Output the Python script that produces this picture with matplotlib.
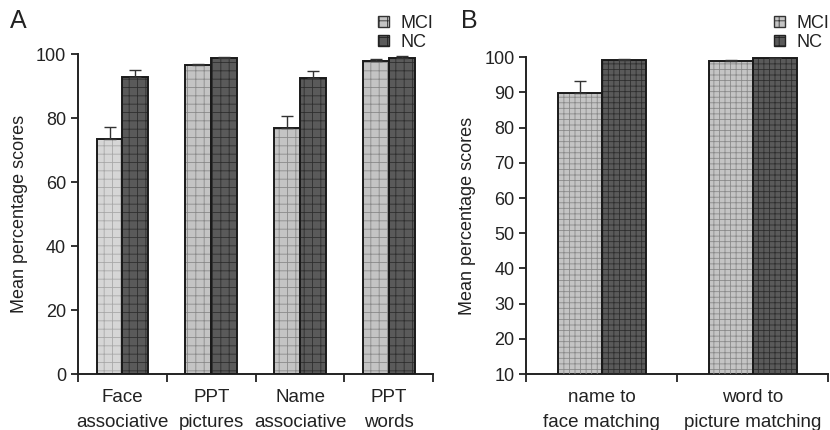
import matplotlib.pyplot as plt
import numpy as np
from matplotlib.patches import Patch

plt.rcParams['font.family'] = ['Liberation Sans', 'DejaVu Sans']
plt.rcParams['hatch.linewidth'] = 0.6

# panel A
cats_a = ["Face\nassociative", "PPT\npictures", "Name\nassociative", "PPT\nwords"]
mci_a = [73.5, 96.5, 77.0, 98.0]
mci_a_err = [3.7, 0.3, 3.6, 0.4]
nc_a = [93.0, 98.8, 92.7, 98.8]
nc_a_err = [1.9, 0.4, 1.9, 0.5]

# panel B
cats_b = ["name to\nface matching", "word to\npicture matching"]
mci_b = [89.9, 98.8]
mci_b_err = [3.3, 0.3]
nc_b = [99.2, 99.7]
nc_b_err = [0.3, 0.2]

TXT = '#222222'
MCI_FC, MCI_HC = '#c4c4c4', '#8a8a8a'
NC_FC, NC_HC = '#5a5a5a', '#2e2e2e'
W = 0.29


def bars(ax, x, vals, err, fc, hc, hatch):
    ax.bar(x, vals, W, color=fc, edgecolor='none', zorder=2)
    for xi, v, h in zip(x, vals, hc):
        ax.bar(xi, v, W, color='none', edgecolor=h, hatch=hatch, linewidth=0, zorder=3)
    ax.bar(x, vals, W, color='none', edgecolor='#1a1a1a', linewidth=1.4, zorder=4)
    ax.errorbar(x, vals, yerr=[np.zeros(len(vals)), err], fmt='none',
                ecolor='#333333', elinewidth=1.0, capsize=4, capthick=1.0, zorder=5)


def style(ax, cats, ylo, yticks):
    n = len(cats)
    ax.set_xlim(-0.5, n - 0.5)
    ax.set_ylim(ylo, 100)
    ax.set_yticks(yticks)
    ax.set_xticks(np.arange(n + 1) - 0.5)
    ax.set_xticklabels([])
    ax.set_xticks(np.arange(n), minor=True)
    ax.set_xticklabels(cats, minor=True, fontsize=13.5, color=TXT, linespacing=1.6)
    ax.tick_params(axis='x', which='major', direction='out', length=6, width=1.3, color='#222')
    ax.tick_params(axis='x', which='minor', length=0, pad=11)
    ax.tick_params(axis='y', direction='out', length=5, width=1.3, color='#222',
                   labelsize=13, labelcolor=TXT)
    for s in ['top', 'right']:
        ax.spines[s].set_visible(False)
    for s in ['left', 'bottom']:
        ax.spines[s].set_linewidth(1.4)
        ax.spines[s].set_color('#222')
    ax.set_ylabel("Mean percentage scores", fontsize=13, color=TXT, labelpad=6)


fig = plt.figure(figsize=(8.3, 4.3), dpi=100)
ax1 = fig.add_axes([0.094, 0.130, 0.428, 0.744])
ax2 = fig.add_axes([0.634, 0.130, 0.364, 0.737])

xa = np.arange(len(cats_a))
bars(ax1, xa - W / 2, mci_a, mci_a_err,
     ['#d6d6d6', MCI_FC, MCI_FC, MCI_FC], ['#a8a8a8', MCI_HC, MCI_HC, MCI_HC], '++')
bars(ax1, xa + W / 2, nc_a, nc_a_err, [NC_FC] * 4, [NC_HC] * 4, '++')
style(ax1, cats_a, 0, [0, 20, 40, 60, 80, 100])

xb = np.arange(len(cats_b))
bars(ax2, xb - W / 2, mci_b, mci_b_err, [MCI_FC] * 2, [MCI_HC] * 2, '+++')
bars(ax2, xb + W / 2, nc_b, nc_b_err, [NC_FC] * 2, [NC_HC] * 2, '+++')
style(ax2, cats_b, 10, list(range(10, 101, 10)))

handles = [Patch(facecolor=MCI_FC, edgecolor='#333', hatch='++', label='MCI'),
           Patch(facecolor=NC_FC, edgecolor='#222', hatch='++', label='NC')]
for x in (0.456, 0.933):
    fig.legend(handles=handles, loc='upper left', bbox_to_anchor=(x, 0.965),
               frameon=False, fontsize=13, handlelength=0.6, handleheight=0.6,
               handletextpad=0.6, labelspacing=0.1, borderpad=0, borderaxespad=0,
               labelcolor=TXT)

fig.text(0.012, 0.935, "A", fontsize=18, color=TXT)
fig.text(0.556, 0.935, "B", fontsize=18, color=TXT)

fig.savefig("out.png", dpi=100)
